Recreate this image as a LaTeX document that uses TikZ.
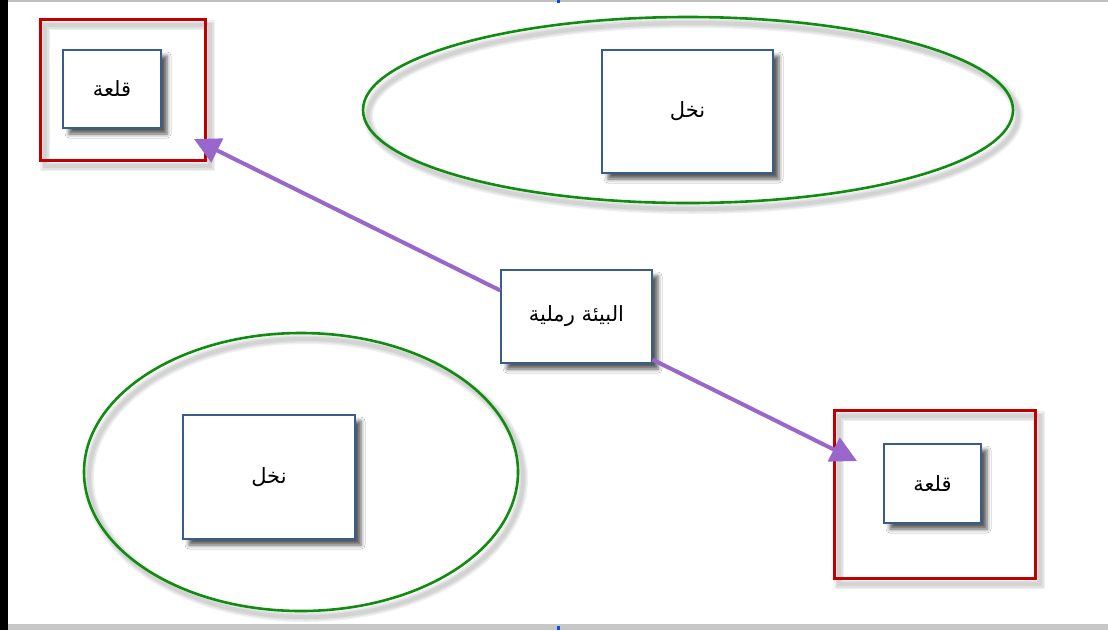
\documentclass[tikz,border=0pt]{standalone}
\usepackage{fontspec}
\newfontfamily\arabicfont[Script=Arabic]{DejaVu Sans}
\TeXXeTstate=1
\usetikzlibrary{arrows.meta,shadows.blur,calc}
\definecolor{boxblue}{RGB}{56,93,138}
\definecolor{frred}{RGB}{192,0,0}
\definecolor{elgreen}{RGB}{16,140,16}
\definecolor{arrpurple}{RGB}{153,102,204}
\tikzset{
  txtbox/.style={draw=boxblue, line width=1.3pt, fill=white, inner sep=0pt,
    font=\arabicfont\fontsize{21}{24}\selectfont,
    blur shadow={shadow xshift=6pt, shadow yshift=-6pt, shadow opacity=65, shadow blur radius=4pt}},
  frame/.style={draw=frred, line width=3pt},
  ring/.style={draw=elgreen, line width=2.6pt},
  link/.style={draw=arrpurple, line width=4pt, -{Triangle[length=26pt,width=26pt]}},
  softsh/.style={black, opacity=0.06},
}
\newcommand\softshade[1]{%
  \begin{scope}[shift={(5,6)}]
    \foreach \w in {10,7,4}{\draw[softsh, line width=\w pt] #1;}
  \end{scope}}
\begin{document}
\begin{tikzpicture}[x=1pt,y=-1pt]
\useasboundingbox (0,0) rectangle (1108,630);
\fill[white] (0,0) rectangle (1108,630);
% window edges
\fill[black] (0,0) rectangle (8,630);
\fill[black!25] (8,0) rectangle (1108,2);
\fill[black!22] (8,624) rectangle (1108,630);
\fill[blue!70!cyan] (557,0) rectangle (560,3);
\fill[blue!70!cyan] (557,626) rectangle (560,630);
% soft shadows of outlines
\softshade{(40,19) rectangle (205,160)}
\softshade{(834,410) rectangle (1035,578)}
\softshade{(688,110) ellipse [x radius=325, y radius=93]}
\softshade{(301,472) ellipse [x radius=217, y radius=139]}
% frames and rings
\draw[frame] (40,19) rectangle (205,160);
\draw[frame] (834,410) rectangle (1035,578);
\draw[ring] (688,110) ellipse [x radius=325, y radius=93];
\draw[ring] (301,472) ellipse [x radius=217, y radius=139];
% text boxes
\node[txtbox, minimum width=98, minimum height=78] (q1) at (112,89) {\beginR قلعة\endR};
\node[txtbox, minimum width=171, minimum height=123] (n1) at (687.5,111.5) {\beginR نخل\endR};
\node[txtbox, minimum width=151, minimum height=93] (c) at (576.5,316.5) {\beginR البيئة رملية\endR};
\node[txtbox, minimum width=172, minimum height=124] (n2) at (269,477) {\beginR نخل\endR};
\node[txtbox, minimum width=97, minimum height=79] (q2) at (932.5,483.5) {\beginR قلعة\endR};
% arrows
\coordinate (t1) at (194,139);
\coordinate (t2) at (857,461);
\draw[link] ([yshift=26pt]c.west) -- (t1);
\draw[link] ([yshift=4pt]c.south east) -- (t2);
\end{tikzpicture}
\end{document}
